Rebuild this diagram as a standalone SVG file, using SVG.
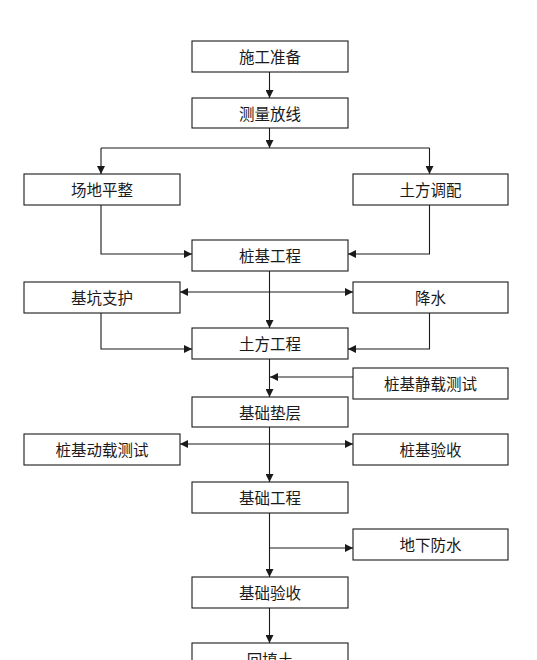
<svg xmlns="http://www.w3.org/2000/svg" width="537" height="660" viewBox="0 0 537 660">
<defs>
<style>
.box{fill:#fff;stroke:#1a1a1a;stroke-width:1.1}
.lbl{font-family:"Liberation Serif","Noto Sans CJK SC",serif;font-size:15.5px;fill:#1a1a1a;text-anchor:middle;dominant-baseline:central}
.ln{fill:none;stroke:#1a1a1a;stroke-width:1.1}
</style>
<marker id="ah" viewBox="0 0 10 10" refX="10" refY="5" markerWidth="8" markerHeight="8" markerUnits="userSpaceOnUse" orient="auto-start-reverse">
<path d="M0,0 L10,5 L0,10 z" fill="#1a1a1a"/>
</marker>
</defs>
<rect width="537" height="660" fill="#fff"/>
<g id="connectors">
<path class="ln" d="M269.5,72 V98" marker-end="url(#ah)"/>
<path class="ln" d="M269.5,128 V148" marker-end="url(#ah)"/>
<path class="ln" d="M101,148 H429.5"/>
<path class="ln" d="M101,148 V174" marker-end="url(#ah)"/>
<path class="ln" d="M429.5,148 V174" marker-end="url(#ah)"/>
<path class="ln" d="M101,205 V254 H192" marker-end="url(#ah)"/>
<path class="ln" d="M429.5,205 V254 H348" marker-end="url(#ah)"/>
<path class="ln" d="M269.5,271 V328" marker-end="url(#ah)"/>
<path class="ln" d="M180,292 H353" marker-start="url(#ah)" marker-end="url(#ah)"/>
<path class="ln" d="M101,313 V349 H192" marker-end="url(#ah)"/>
<path class="ln" d="M429.5,313 V349 H348" marker-end="url(#ah)"/>
<path class="ln" d="M269.5,359 V397" marker-end="url(#ah)"/>
<path class="ln" d="M353,377 H270" marker-end="url(#ah)"/>
<path class="ln" d="M269.5,427 V482" marker-end="url(#ah)"/>
<path class="ln" d="M180,444 H353" marker-start="url(#ah)" marker-end="url(#ah)"/>
<path class="ln" d="M269.5,513 V577" marker-end="url(#ah)"/>
<path class="ln" d="M269.5,548 H353" marker-end="url(#ah)"/>
<path class="ln" d="M269.5,608 V643" marker-end="url(#ah)"/>
</g>
<g id="n1"><rect class="box" x="192" y="41" width="156" height="31"/><text class="lbl" x="270" y="57">施工准备</text></g>
<g id="n2"><rect class="box" x="192" y="98" width="156" height="30"/><text class="lbl" x="270" y="114">测量放线</text></g>
<g id="n3"><rect class="box" x="24" y="174" width="156" height="31"/><text class="lbl" x="102" y="190">场地平整</text></g>
<g id="n4"><rect class="box" x="353" y="174" width="155" height="31"/><text class="lbl" x="430.5" y="190">土方调配</text></g>
<g id="n5"><rect class="box" x="192" y="240" width="156" height="31"/><text class="lbl" x="270" y="256">桩基工程</text></g>
<g id="n6"><rect class="box" x="24" y="282" width="156" height="31"/><text class="lbl" x="102" y="298">基坑支护</text></g>
<g id="n7"><rect class="box" x="353" y="282" width="155" height="31"/><text class="lbl" x="430.5" y="298">降水</text></g>
<g id="n8"><rect class="box" x="192" y="328" width="156" height="31"/><text class="lbl" x="270" y="344">土方工程</text></g>
<g id="n9"><rect class="box" x="353" y="368" width="155" height="31"/><text class="lbl" x="430.5" y="384">桩基静载测试</text></g>
<g id="n10"><rect class="box" x="192" y="397" width="156" height="30"/><text class="lbl" x="270" y="413">基础垫层</text></g>
<g id="n11"><rect class="box" x="24" y="434" width="156" height="31"/><text class="lbl" x="102" y="450">桩基动载测试</text></g>
<g id="n12"><rect class="box" x="353" y="434" width="155" height="31"/><text class="lbl" x="430.5" y="450">桩基验收</text></g>
<g id="n13"><rect class="box" x="192" y="482" width="156" height="31"/><text class="lbl" x="270" y="498">基础工程</text></g>
<g id="n14"><rect class="box" x="353" y="529" width="155" height="31"/><text class="lbl" x="430.5" y="545">地下防水</text></g>
<g id="n15"><rect class="box" x="192" y="577" width="156" height="31"/><text class="lbl" x="270" y="593">基础验收</text></g>
<g id="n16"><rect class="box" x="192" y="643" width="156" height="31"/><text class="lbl" x="270" y="660">回填土</text></g>
</svg>
